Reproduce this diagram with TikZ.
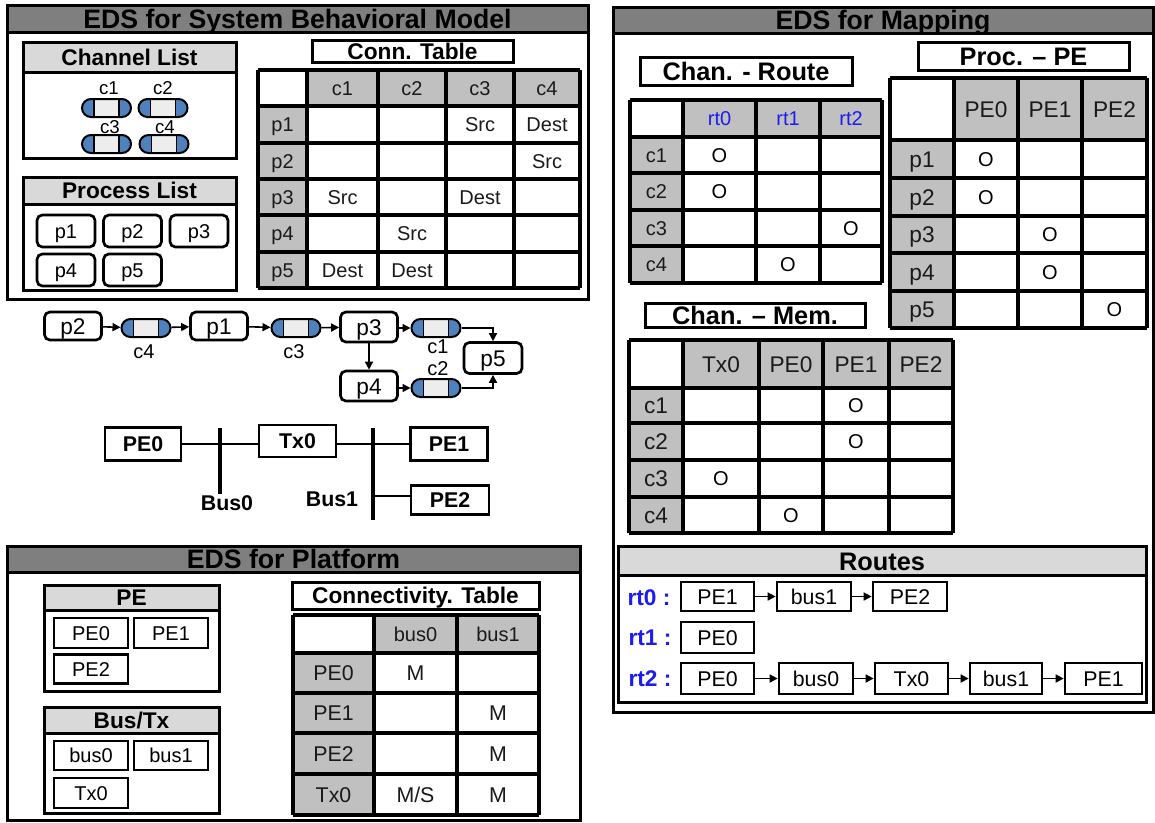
\documentclass[tikz,border=0pt]{standalone}
\usepackage{fontspec}
\setmainfont{Liberation Sans}
\usetikzlibrary{shapes.misc,arrows.meta,calc}
\definecolor{titlegray}{HTML}{7F7F7F}
\definecolor{subgray}{HTML}{D9D9D9}
\definecolor{cellgray}{HTML}{C0C0C0}
\definecolor{chanblue}{HTML}{4F81BD}
\definecolor{chanmid}{HTML}{EDEDED}
\definecolor{rtblue}{HTML}{1C1CF0}
\definecolor{txtdark}{HTML}{1A1A1A}
\newcommand\fs[1]{\fontsize{#1}{#1}\selectfont}
\newcommand\tbl[8]{%
  \fill[white] (#1,#4) rectangle (#3,#6);
  \fill[cellgray] (#2,#4) rectangle (#3,#5);
  \fill[cellgray] (#1,#5) rectangle (#2,#6);
  \foreach \xx in {#7} {\draw[gridln] (\xx,#4) -- (\xx,#6);}
  \foreach \yy in {#8} {\draw[gridln] (#1,\yy) -- (#3,\yy);}
}
\tikzset{
  f13/.style={font=\fs{13}, text height=9.3pt, text depth=0pt},
  f14/.style={font=\fs{14}, text height=10pt, text depth=0pt},
  f15/.style={font=\fs{15}, text height=10.74pt, text depth=0pt},
  f16/.style={font=\fs{16}, text height=11.46pt, text depth=0pt},
  f17/.style={font=\fs{17}, text height=12.17pt, text depth=0pt},
  fb16/.style={font=\fs{16}\bfseries, text height=11.46pt, text depth=0pt},
  fb17/.style={font=\fs{17}\bfseries, text height=12.17pt, text depth=0pt},
  fb19/.style={font=\fs{19}\bfseries, text height=13.6pt, text depth=0pt},
  fb20/.style={font=\fs{20}\bfseries, text height=14.32pt, text depth=0pt},
}
\begin{document}
\begin{tikzpicture}[x=0.75pt,y=-0.75pt,
  wh/.style 2 args={minimum width=#1*0.75pt, minimum height=#2*0.75pt},
  frm/.style={line width=2.25pt},
  gridln/.style={line width=3pt, line cap=square},
  txt/.style={inner sep=0pt},
  maintitle/.style={txt, fb20},
  subtitle/.style={txt, fb17},
  maptitle/.style={txt, fb19},
  tbox/.style={draw, line width=2.25pt, fill=white, inner sep=0pt},
  rbox/.style={draw, line width=2pt, rounded corners=4pt, fill=white, inner sep=0pt},
  sbox/.style={draw, line width=2pt, fill=white, inner sep=0pt},
  celltxt/.style={txt, f15, text=txtdark},
  omark/.style={txt, f15},
  rtlbl/.style={txt, fb17, text=rtblue},
  lbl/.style={txt, f15},
  arr/.style={line width=1.2pt, -{Triangle[length=6pt,width=6pt]}},
  wire/.style={line width=2pt},
  busln/.style={line width=2.5pt},
  chan/.style={rounded rectangle, draw, line width=1.5pt, fill=chanmid,
    minimum width=36.75pt, minimum height=13.5pt, inner sep=0pt,
    path picture={
      \fill[chanblue] (path picture bounding box.south west) rectangle ([xshift=9pt]path picture bounding box.north west);
      \fill[chanblue] ([xshift=-9pt]path picture bounding box.south east) rectangle (path picture bounding box.north east);
      \draw[line width=1.2pt] ([xshift=9pt]path picture bounding box.south west) -- ([xshift=9pt]path picture bounding box.north west);
      \draw[line width=1.2pt] ([xshift=-9pt]path picture bounding box.south east) -- ([xshift=-9pt]path picture bounding box.north east);
    }},
]
\useasboundingbox (0,0) rectangle (1155,822);
\fill[white] (0,0) rectangle (1155,822);

% ================= Behavioral model frame =================
\fill[titlegray] (7,5) rectangle (588,32);
\draw[frm] (7,5) rectangle (588,299);
\draw[frm] (7,32) -- (588,32);
\node[maintitle] (tbeh) at (297.5,18.5) {EDS for System Behavioral Model};

% Channel list
\fill[subgray] (23,42) rectangle (236,72);
\draw[frm] (23,42) rectangle (236,158);
\draw[frm] (23,72) -- (236,72);
\node[subtitle] (chlist) at (129.5,57) {Channel List};
\node[chan] (lc1) at (106.5,108) {};
\node[chan] (lc2) at (163,108) {};
\node[chan] (lc3) at (106.5,144) {};
\node[chan] (lc4) at (164,144) {};
\node[txt, f14] (llc1) at (109,88) {c1};
\node[txt, f14] (llc2) at (163,88) {c2};
\node[txt, f14] (llc3) at (110,127) {c3};
\node[txt, f14] (llc4) at (165,127) {c4};

% Process list
\fill[subgray] (23,177) rectangle (236,204);
\draw[frm] (23,177) rectangle (236,290);
\draw[frm] (23,204) -- (236,204);
\node[subtitle] (prlist) at (129.5,190.5) {Process List};
\foreach \x/\y/\t in {66/231/p1, 132.5/231/p2, 199/231/p3, 66/270/p4, 132.5/270/p5}
  \node[rbox, wh={58}{32}, f15] (lp-\t) at (\x,\y) {\t};

% Conn. Table
\node[tbox, wh={201}{22}, fb17] (tconn) at (412.5,51) {Conn. Table};
\tbl{258}{307}{580}{70}{106}{288}{258,307,378,446,514,580}{70,106,143,179,215,252,288}
\foreach \x/\t [count=\k] in {342.5/c1,412/c2,480/c3,547/c4}
  \node[celltxt] (conn-h\k) at (\x,88) {\t};
\foreach \y/\t [count=\k] in {124.5/p1,161/p2,197/p3,233/p4,270/p5}
  \node[celltxt] (conn-r\k) at (282.5,\y) {\t};
\foreach \x/\y/\t [count=\k] in {480/124.5/Src, 547/124.5/Dest, 547/161/Src, 342.5/197/Src, 480/197/Dest, 412/233/Src, 342.5/270/Dest, 412/270/Dest}
  \node[celltxt] (conn-e\k) at (\x,\y) {\t};

% ================= Process network =================
\node[rbox, wh={57}{28}, f17] (fp2) at (73,326) {p2};
\node[chan] (fc4) at (146,328) {};
\node[rbox, wh={57}{28}, f17] (fp1) at (219,326) {p1};
\node[chan] (fc3) at (296,328) {};
\node[rbox, wh={57}{30}, f17] (fp3) at (369,327) {p3};
\node[chan] (fc1) at (436,328) {};
\node[rbox, wh={57}{30}, f17] (fp4) at (369,386) {p4};
\node[chan] (fc2) at (436,388) {};
\node[rbox, wh={58}{31}, f17] (fp5) at (493,358) {p5};
\node[lbl] (flc4) at (144,351) {c4};
\node[lbl] (flc3) at (294,351) {c3};
\node[lbl] (flc1) at (438,346) {c1};
\node[lbl] (flc2) at (438,368) {c2};
\draw[arr] (fp2) -- (fc4);
\draw[arr] (fc4) -- (fp1);
\draw[arr] (fp1) -- (fc3);
\draw[arr] (fc3) -- (fp3);
\draw[arr] (fp3.east |- fc1.west) -- (fc1.west);
\draw[arr] (fc1.east) -| (fp5.north);
\draw[arr] (fp3.south) -- (fp4.north);
\draw[arr] (fp4.east |- fc2.west) -- (fc2.west);
\draw[arr] (fc2.east) -| (fp5.south);

% ================= Platform topology =================
\node[sbox, wh={76}{33}, fb16] (tPE0) at (143,444) {PE0};
\node[sbox, wh={77}{32}, fb16] (tTx0) at (297.5,441) {Tx0};
\node[sbox, wh={77}{33}, fb16] (tPE1) at (449,444) {PE1};
\node[sbox, wh={78}{29}, fb16] (tPE2) at (450,500) {PE2};
\coordinate (b0t) at (220,428);
\coordinate (b0b) at (220,494);
\coordinate (b1t) at (373,428);
\coordinate (b1b) at (373,520);
\coordinate (b1p2) at (373,496);
\draw[busln] (b0t) -- (b0b);
\draw[busln] (b1t) -- (b1b);
\draw[wire] (tPE0.east) -- (tPE0.east -| tTx0.west);
\draw[wire] (tPE1.west -| tTx0.east) -- (tPE1.west);
\draw[wire] (b1p2) -- (b1p2 -| tPE2.west);
\node[txt, fb16] (lbus0) at (227,503) {Bus0};
\node[txt, fb16] (lbus1) at (332,499) {Bus1};

% ================= Platform frame =================
\fill[titlegray] (7,546) rectangle (580,572);
\draw[frm] (7,546) rectangle (580,820);
\draw[frm] (7,572) -- (580,572);
\node[maintitle] (tplat) at (293.5,559) {EDS for Platform};

\fill[subgray] (44,585) rectangle (219,610);
\draw[frm] (44,585) rectangle (219,691);
\draw[frm] (44,610) -- (219,610);
\node[subtitle] (pelist) at (131.5,597.5) {PE};
\node[sbox, wh={74}{30}, f15] (lPE0) at (91,633) {PE0};
\node[sbox, wh={74}{30}, f15] (lPE1) at (171,633) {PE1};
\node[sbox, wh={74}{29}, f15] (lPE2) at (91,669) {PE2};

\fill[subgray] (44,707) rectangle (219,733);
\draw[frm] (44,707) rectangle (219,813);
\draw[frm] (44,733) -- (219,733);
\node[subtitle] (buslist) at (131.5,720) {Bus/Tx};
\node[sbox, wh={74}{29}, f15] (lbus0b) at (91,755.5) {bus0};
\node[sbox, wh={74}{29}, f15] (lbus1b) at (171,755.5) {bus1};
\node[sbox, wh={74}{30}, f15] (lTx0) at (91,793) {Tx0};

\node[tbox, wh={247}{27}, fb17] (tconnect) at (415.5,595.5) {Connectivity. Table};
\tbl{293}{374}{539}{615}{653}{815}{293,374,457,539}{615,653,693,733,774,815}
\foreach \x/\t [count=\k] in {415.5/bus0,498/bus1}
  \node[celltxt] (ct-h\k) at (\x,634) {\t};
\foreach \y/\t [count=\k] in {673/PE0,713/PE1,753.5/PE2,794.5/Tx0}
  \node[celltxt, f16] (ct-r\k) at (333.5,\y) {\t};
\foreach \x/\y/\t [count=\k] in {415.5/673/M, 498/713/M, 498/753.5/M, 415.5/794.5/{M/S}, 498/794.5/M}
  \node[celltxt, f16] (ct-e\k) at (\x,\y) {\t};

% ================= Mapping frame =================
\fill[titlegray] (613,7) rectangle (1153,33);
\draw[frm] (613,7) rectangle (1153,712);
\draw[frm] (613,33) -- (1153,33);
\node[maintitle] (tmap) at (883,20) {EDS for Mapping};

% Chan - Route
\node[tbox, wh={212}{28}, fb19] (tcr) at (746,71) {Chan. - Route};
\tbl{630}{683}{882}{100}{137}{283}{630,683,756,820,882}{100,137,173,210,246,283}
\foreach \x/\t [count=\k] in {719.5/rt0,788/rt1,851/rt2}
  \node[celltxt, text=rtblue] (cr-h\k) at (\x,118.5) {\t};
\foreach \y/\t [count=\k] in {155/c1,191.5/c2,228/c3,264.5/c4}
  \node[celltxt] (cr-r\k) at (656.5,\y) {\t};
\foreach \x/\y [count=\k] in {719.5/155, 719.5/191.5, 851/228, 788/264.5}
  \node[omark] (cr-o\k) at (\x,\y) {O};

% Proc - PE
\node[tbox, wh={211}{28}, fb19] (tpp) at (1023.5,56) {Proc. – PE};
\tbl{890}{954}{1147}{78}{140}{328}{890,954,1018,1082,1147}{78,140,178,216,253,291,328}
\foreach \x/\t [count=\k] in {986/PE0,1050/PE1,1114.5/PE2}
  \node[celltxt, f17] (pp-h\k) at (\x,109) {\t};
\foreach \y/\t [count=\k] in {159/p1,197/p2,234.5/p3,272/p4,309.5/p5}
  \node[celltxt, f17] (pp-r\k) at (922,\y) {\t};
\foreach \x/\y [count=\k] in {986/159, 986/197, 1050/234.5, 1050/272, 1114.5/309.5}
  \node[omark] (pp-o\k) at (\x,\y) {O};

% Chan - Mem
\node[tbox, wh={220}{24}, fb19] (tcm) at (755,315) {Chan. – Mem.};
\tbl{629}{683}{953}{340}{388}{533}{629,683,759,823,889,953}{340,388,423,460,497,533}
\foreach \x/\t [count=\k] in {721/Tx0,791/PE0,856/PE1,921/PE2}
  \node[celltxt, f17] (cm-h\k) at (\x,364) {\t};
\foreach \y/\t [count=\k] in {405.5/c1,441.5/c2,478.5/c3,515/c4}
  \node[celltxt, f17] (cm-r\k) at (656,\y) {\t};
\foreach \x/\y [count=\k] in {856/405.5, 856/441.5, 721/478.5, 791/515}
  \node[omark] (cm-o\k) at (\x,\y) {O};

% Routes
\fill[subgray] (618,546) rectangle (1146,575);
\draw[frm] (618,546) rectangle (1146,702);
\draw[frm] (618,575) -- (1146,575);
\node[maptitle] (troutes) at (882,561) {Routes};
\node[rtlbl] (rt0l) at (649,597) {rt0 :};
\node[rtlbl] (rt1l) at (650,637.5) {rt1 :};
\node[rtlbl] (rt2l) at (650,678.5) {rt2 :};
\node[sbox, wh={73}{29}, f16] (r0a) at (717.5,596.5) {PE1};
\node[sbox, wh={74}{29}, f16] (r0b) at (814,596.5) {bus1};
\node[sbox, wh={74}{29}, f16] (r0c) at (910,596.5) {PE2};
\node[sbox, wh={73}{31}, f16] (r1a) at (717.5,637.5) {PE0};
\node[sbox, wh={73}{31}, f16] (r2a) at (717.5,678.5) {PE0};
\node[sbox, wh={74}{31}, f16] (r2b) at (816,678.5) {bus0};
\node[sbox, wh={73}{31}, f16] (r2c) at (911.5,678.5) {Tx0};
\node[sbox, wh={72}{31}, f16] (r2d) at (1006,678.5) {bus1};
\node[sbox, wh={77}{31}, f16] (r2e) at (1103.5,678.5) {PE1};
\draw[arr] (r0a) -- (r0b);
\draw[arr] (r0b) -- (r0c);
\draw[arr] (r2a) -- (r2b);
\draw[arr] (r2b) -- (r2c);
\draw[arr] (r2c) -- (r2d);
\draw[arr] (r2d) -- (r2e);
\end{tikzpicture}
\end{document}
